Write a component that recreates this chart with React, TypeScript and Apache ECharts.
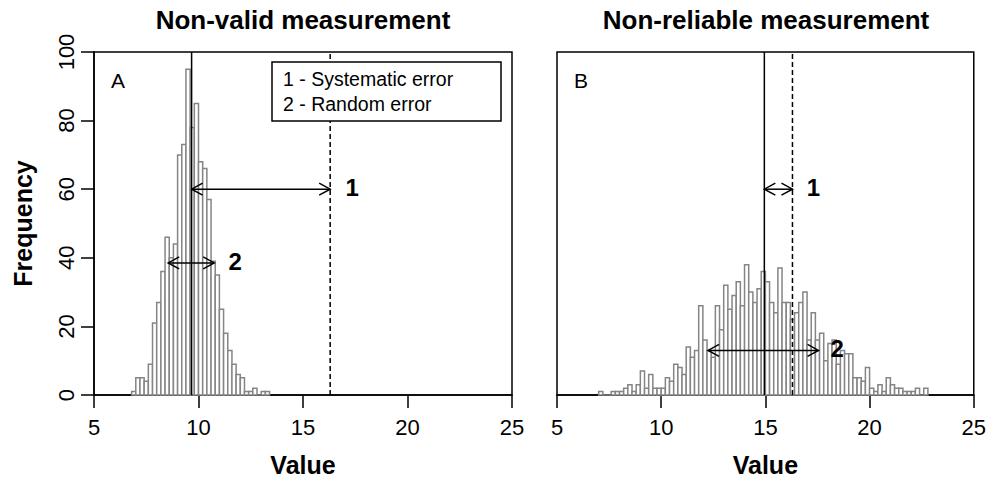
import React, { useEffect, useRef } from "react";
import * as echarts from "echarts";

// ---------------- data ----------------
const binWidth = 0.2;

// Panel A histogram: counts per 0.2-wide bin, first bin starts at 6.8
const binStartA = 6.8;
const countsA = [
  1, 5, 5, 4, 9, 21, 27, 36, 46, 40, 44, 70, 73, 95, 78, 85, 68, 66, 57, 39, 35,
  25, 18, 13, 9, 6, 5, 1, 1, 2, 0, 1, 1,
];

// Panel B histogram: counts per 0.2-wide bin, first bin starts at 7.0
const binStartB = 7.0;
const countsB = [
  1, 0, 0, 1, 1, 1, 2, 3, 1, 3,
  7, 2, 6, 2, 2, 2, 5, 4, 9, 8,
  6, 14, 11, 13, 26, 16, 13, 11, 26, 19,
  32, 25, 29, 33, 26, 38, 30, 27, 31, 36,
  33, 27, 24, 37, 27, 27, 22, 24, 27, 30,
  16, 24, 16, 18, 10, 15, 16, 9, 13, 12,
  12, 5, 5, 4, 8, 2, 1, 3, 1, 5,
  3, 2, 2, 1, 1, 1, 2, 0, 2,
];

const xMin = 5;
const xMax = 25;
const xInterval = 5;
const yMin = 0;
const yMax = 100;
const yInterval = 20;

const titles = ["Non-valid measurement", "Non-reliable measurement"];
const panelLetters = ["A", "B"];
const xAxisName = "Value";
const yAxisName = "Frequency";
const legendLines = ["1 - Systematic error", "2 - Random error"];

// observed means (solid) and true value (dashed)
const meanA = 9.67;
const meanB = 14.95;
const trueValue = 16.3;

// arrows: [from, to, height]; labels: [x, height, text]
const arrowsA = [
  [meanA, trueValue, 60],
  [8.55, 10.75, 38.5],
];
const arrowLabelsA = [
  [17.35, 60.5, "1"],
  [11.75, 39, "2"],
];
const arrowsB = [
  [meanB, trueValue, 60],
  [12.25, 17.55, 13],
];
const arrowLabelsB = [
  [17.3, 60.5, "1"],
  [18.45, 13.5, "2"],
];

// ---------------- styles ----------------
const FONT = "'Liberation Sans', Arial, Helvetica, sans-serif";
const grids = [
  { left: 94, top: 52, width: 418, height: 343 },
  { left: 557, top: 52, width: 418, height: 343 },
];

function histSeries(idx: number, start: number, counts: number[]) {
  return {
    type: "custom",
    xAxisIndex: idx,
    yAxisIndex: idx,
    silent: true,
    clip: false,
    encode: { x: 0, y: 1 },
    data: counts.map((c, i) => [start + i * binWidth, c]),
    renderItem: (_p: any, api: any) => {
      const x0 = api.value(0);
      const h = api.value(1);
      const a = api.coord([x0, h]);
      const b = api.coord([x0 + binWidth, 0]);
      return {
        type: "rect",
        shape: { x: a[0], y: a[1], width: b[0] - a[0], height: b[1] - a[1] },
        style: { fill: "#ffffff", stroke: "#858585", lineWidth: 1.5 },
      };
    },
  };
}

function vline(idx: number, x: number, dashed: boolean) {
  return {
    type: "line",
    xAxisIndex: idx,
    yAxisIndex: idx,
    silent: true,
    symbol: "none",
    data: [
      [x, yMin],
      [x, yMax],
    ],
    lineStyle: {
      color: "#000",
      width: 1.5,
      type: dashed ? [5, 3] : "solid",
    },
    z: 3,
  };
}

function arrowSeries(idx: number, arrows: number[][]) {
  return {
    type: "custom",
    xAxisIndex: idx,
    yAxisIndex: idx,
    silent: true,
    clip: false,
    encode: { x: [0, 1], y: 2 },
    data: arrows,
    z: 4,
    renderItem: (_p: any, api: any) => {
      const y = api.value(2);
      const a = api.coord([api.value(0), y]);
      const b = api.coord([api.value(1), y]);
      const dx = 11;
      const dy = 6;
      const st = { stroke: "#000", lineWidth: 1.5, fill: null };
      return {
        type: "group",
        children: [
          { type: "line", shape: { x1: a[0], y1: a[1], x2: b[0], y2: b[1] }, style: st },
          {
            type: "polyline",
            shape: { points: [[a[0] + dx, a[1] - dy], [a[0], a[1]], [a[0] + dx, a[1] + dy]] },
            style: st,
          },
          {
            type: "polyline",
            shape: { points: [[b[0] - dx, b[1] - dy], [b[0], b[1]], [b[0] - dx, b[1] + dy]] },
            style: st,
          },
        ],
      };
    },
  };
}

function labelSeries(idx: number, labels: (number | string)[][]) {
  return {
    type: "custom",
    xAxisIndex: idx,
    yAxisIndex: idx,
    silent: true,
    clip: false,
    encode: { x: 0, y: 1 },
    data: labels.map((l) => [l[0], l[1]]),
    z: 5,
    renderItem: (p: any, api: any) => {
      const c = api.coord([api.value(0), api.value(1)]);
      return {
        type: "text",
        x: c[0],
        y: c[1],
        style: {
          text: String(labels[p.dataIndex][2]),
          fill: "#000",
          fontSize: 24,
          fontWeight: "bold",
          fontFamily: FONT,
          align: "center",
          verticalAlign: "middle",
        },
      };
    },
  };
}

function xAxis(idx: number) {
  return {
    type: "value",
    gridIndex: idx,
    min: xMin,
    max: xMax,
    interval: xInterval,
    position: "bottom",
    axisLine: { show: true, onZero: false, lineStyle: { color: "#000", width: 1.5 } },
    axisTick: { show: true, inside: false, length: 13, lineStyle: { color: "#000", width: 1.5 } },
    axisLabel: {
      show: true,
      margin: 21,
      fontSize: 22,
      color: "#000",
      fontFamily: FONT,
      showMinLabel: true,
      showMaxLabel: true,
    },
    splitLine: { show: false },
    name: xAxisName,
    nameLocation: "middle",
    nameGap: 57,
    nameTextStyle: { fontSize: 25, fontWeight: "bold", color: "#000", fontFamily: FONT },
  };
}

const option: any = {
  animation: false,
  backgroundColor: "#ffffff",
  grid: grids.map((g) => ({
    ...g,
    show: true,
    borderColor: "#000",
    borderWidth: 1.5,
    backgroundColor: "transparent",
    containLabel: false,
  })),
  xAxis: [xAxis(0), xAxis(1)],
  yAxis: [
    {
      type: "value",
      gridIndex: 0,
      min: yMin,
      max: yMax,
      interval: yInterval,
      axisLine: { show: true, lineStyle: { color: "#000", width: 1.5 } },
      axisTick: { show: true, inside: false, length: 13, lineStyle: { color: "#000", width: 1.5 } },
      axisLabel: {
        show: true,
        rotate: 90,
        margin: 17,
        fontSize: 22,
        color: "#000",
        fontFamily: FONT,
        showMinLabel: true,
        showMaxLabel: true,
      },
      splitLine: { show: false },
      name: yAxisName,
      nameLocation: "middle",
      nameRotate: 90,
      nameGap: 59,
      nameTextStyle: { fontSize: 25, fontWeight: "bold", color: "#000", fontFamily: FONT },
    },
    {
      type: "value",
      gridIndex: 1,
      min: yMin,
      max: yMax,
      interval: yInterval,
      axisLine: { show: false },
      axisTick: { show: false },
      axisLabel: { show: false },
      splitLine: { show: false },
    },
  ],
  series: [
    histSeries(0, binStartA, countsA),
    histSeries(1, binStartB, countsB),
    vline(0, meanA, false),
    vline(0, trueValue, true),
    vline(1, meanB, false),
    vline(1, trueValue, true),
    arrowSeries(0, arrowsA),
    arrowSeries(1, arrowsB),
    labelSeries(0, arrowLabelsA),
    labelSeries(1, arrowLabelsB),
  ],
  graphic: [
    {
      type: "rect",
      z: 100,
      shape: { x: 272, y: 62, width: 229, height: 59 },
      style: { fill: "#ffffff", stroke: "#000", lineWidth: 1.5 },
    },
    ...legendLines.map((t, i) => ({
      type: "text",
      z: 101,
      x: 283,
      y: 79 + i * 25,
      style: {
        text: t,
        fill: "#000",
        fontSize: 19.5,
        fontFamily: FONT,
        align: "left",
        verticalAlign: "middle",
      },
    })),
    ...panelLetters.map((t, i) => ({
      type: "text",
      z: 101,
      x: grids[i].left + 17,
      y: 80,
      style: {
        text: t,
        fill: "#000",
        fontSize: 21,
        fontFamily: FONT,
        align: "left",
        verticalAlign: "middle",
      },
    })),
    ...titles.map((t, i) => ({
      type: "text",
      z: 101,
      x: grids[i].left + grids[i].width / 2,
      y: 20,
      style: {
        text: t,
        fill: "#000",
        fontSize: 26,
        fontWeight: "bold",
        fontFamily: FONT,
        align: "center",
        verticalAlign: "middle",
      },
    })),
  ],
};

export default function App() {
  const ref = useRef<HTMLDivElement>(null);
  useEffect(() => {
    document.body.style.margin = "0";
    const chart = echarts.init(ref.current!, null, { renderer: "svg" });
    chart.setOption(option);
    return () => chart.dispose();
  }, []);
  return <div ref={ref} style={{ width: 989, height: 482 }} />;
}
